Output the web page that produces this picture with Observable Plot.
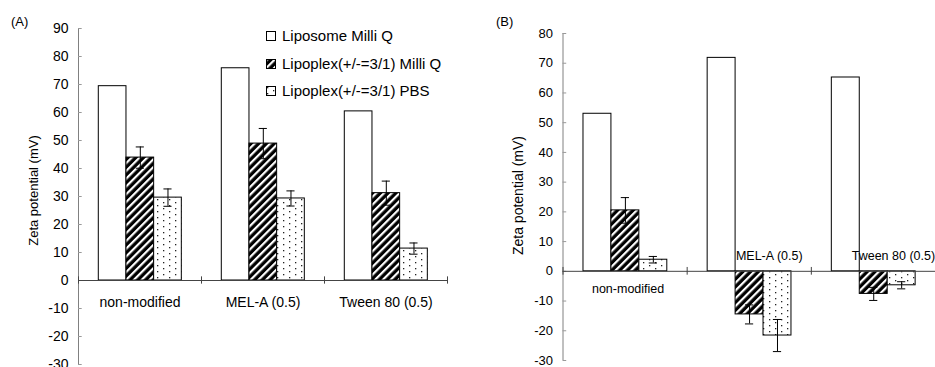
<!DOCTYPE html>
<html><head><meta charset="utf-8">
<script src="https://cdn.jsdelivr.net/npm/d3@7"></script>
<script src="https://cdn.jsdelivr.net/npm/@observablehq/plot@0.6"></script>
<style>
html,body{margin:0;padding:0;background:#fff;overflow:hidden}
#wrap{position:relative;width:935px;height:367px;font-family:"Liberation Sans",Arial,sans-serif;color:#000;overflow:hidden}
.panel{position:absolute;top:0}
.lab{position:absolute;font-size:13px;line-height:15px;white-space:nowrap}
.leg{position:absolute;height:18px;display:flex;align-items:center;font-size:15px;line-height:18px;white-space:nowrap}
.leg svg{margin-right:6px;display:block}
</style></head><body>
<svg width="0" height="0" style="position:absolute">
<defs>
<pattern id="hatch" patternUnits="userSpaceOnUse" width="5.5" height="5.5" patternTransform="rotate(45)">
<rect width="5.5" height="5.5" fill="#000"/>
<rect width="2.2" height="5.5" fill="#fff"/>
</pattern>
<pattern id="dots" patternUnits="userSpaceOnUse" width="12" height="6">
<rect width="12" height="6" fill="#fff"/>
<rect x="1" y="1" width="1.3" height="1.3" fill="#222"/>
<rect x="7" y="4" width="1.3" height="1.3" fill="#222"/>
</pattern>
</defs></svg>
<div id="wrap"></div>
<script>
// ---- data ----
const categories = ["non-modified", "MEL-A (0.5)", "Tween 80 (0.5)"];
const series = ["Liposome Milli Q", "Lipoplex(+/-=3/1) Milli Q", "Lipoplex(+/-=3/1) PBS"];

// Panel (A)
const aLiposomeMQ = [69.4, 75.8, 60.4];
const aLipoplexMQ = [43.9, 48.9, 31.2];
const aLipoplexPBS = [29.6, 29.3, 11.4];
const aErrLipoplexMQ = [3.8, 5.4, 4.3];
const aErrLipoplexPBS = [3.1, 2.7, 2.0];
const aYTicks = [-30, -20, -10, 0, 10, 20, 30, 40, 50, 60, 70, 80, 90];

// Panel (B)
const bLiposomeMQ = [53.0, 71.8, 65.2];
const bLipoplexMQ = [20.5, -14.5, -7.6];
const bLipoplexPBS = [3.9, -21.6, -4.7];
const bErrLipoplexMQ = [4.3, 3.2, 2.2];
const bErrLipoplexPBS = [1.1, 5.4, 1.2];
const bYTicks = [-30, -20, -10, 0, 10, 20, 30, 40, 50, 60, 70, 80];

const yTitle = "Zeta potential (mV)";
const panelNames = ["(A)", "(B)"];

// ---- styles ----
const fills = ["#fff", "url(#hatch)", "url(#dots)"];
const FONT = '"Liberation Sans", Arial, sans-serif';
const BAR_OFF = 0.165, BAR_W = 0.225, CAP = 0.033;

function buildRows(valueLists, errLists) {
  const rows = [];
  categories.forEach((cat, i) => {
    series.forEach((s, j) => {
      const x1 = i + BAR_OFF + j * BAR_W;
      rows.push({cat, i, j, series: s, value: valueLists[j][i],
        err: errLists[j] ? errLists[j][i] : null,
        x1, x2: x1 + BAR_W, xc: x1 + BAR_W / 2});
    });
  });
  return rows;
}

function panel(cfg) {
  const rows = buildRows(cfg.values, cfg.errs);
  const errRows = rows.filter(d => d.err != null);
  const labels = categories.map((c, i) => ({c, x: i + 0.5,
    neg: Math.min(...cfg.values.map(v => v[i])) < 0}));
  const marks = [];
  // y axis line + ticks
  marks.push(Plot.ruleX([0], {stroke: "#808080", strokeWidth: 1}));
  marks.push(Plot.ruleY(cfg.yTicks, {x1: 0, x2: 0.03, stroke: "#999"}));
  marks.push(Plot.text(cfg.yTicks, {x: 0, y: d => d, text: d => String(d), textAnchor: "end",
    dx: -10, fontSize: cfg.tickFont, fill: "#000"}));
  // bars
  series.forEach((s, j) => {
    marks.push(Plot.rectY(rows.filter(d => d.j === j), {x1: "x1", x2: "x2", y1: 0, y2: "value",
      fill: fills[j], stroke: "#000", strokeWidth: 1}));
  });
  // error bars
  marks.push(Plot.ruleX(errRows, {x: "xc", y1: d => d.value - d.err, y2: d => d.value + d.err, stroke: "#000"}));
  marks.push(Plot.ruleY(errRows, {y: d => d.value + d.err, x1: d => d.xc - CAP, x2: d => d.xc + CAP, stroke: "#000"}));
  marks.push(Plot.ruleY(errRows, {y: d => d.value - d.err, x1: d => d.xc - CAP, x2: d => d.xc + CAP, stroke: "#000"}));
  // x axis line at zero + category boundary ticks
  marks.push(Plot.ruleY([0], {stroke: "#444"}));
  marks.push(Plot.ruleX(d3.range(categories.length + 1), {y1: -1.3, y2: 1.3, stroke: "#444"}));
  // category labels
  marks.push(Plot.text(labels.filter(d => !d.neg), {x: "x", y: 0, text: "c", dy: cfg.belowDy, dx: cfg.belowDx,
    fontSize: cfg.catFont, fill: "#000"}));
  marks.push(Plot.text(labels.filter(d => d.neg), {x: "x", y: 0, text: "c", dy: cfg.aboveDy, dx: cfg.aboveDx,
    fontSize: cfg.catFont, fill: "#000"}));
  // y title
  marks.push(Plot.text([yTitle], {frameAnchor: "left", textAnchor: "middle", rotate: -90,
    dx: cfg.titleDx, dy: cfg.titleDy, fontSize: cfg.titleFont, fill: "#000"}));
  return Plot.plot({
    width: cfg.width, height: 367,
    marginLeft: cfg.marginLeft, marginRight: cfg.marginRight,
    marginTop: cfg.marginTop, marginBottom: cfg.marginBottom,
    x: {type: "linear", domain: [0, categories.length], axis: null},
    y: {domain: cfg.yDomain, axis: null},
    style: {fontFamily: FONT, background: "#fff", color: "#000", overflow: "hidden"},
    marks
  });
}

const wrap = document.getElementById("wrap");

const pa = panel({
  values: [aLiposomeMQ, aLipoplexMQ, aLipoplexPBS],
  errs: [null, aErrLipoplexMQ, aErrLipoplexPBS],
  yTicks: aYTicks, yDomain: [-30, 90],
  width: 480, marginLeft: 78, marginRight: 33, marginTop: 28, marginBottom: 3,
  tickFont: 14, catFont: 14, titleFont: 13, titleDx: -45, titleDy: -6,
  belowDy: 22, belowDx: 0, aboveDy: -15, aboveDx: 0
});
pa.classList.add("panel"); pa.style.left = "0px";
wrap.appendChild(pa);

const pb = panel({
  values: [bLiposomeMQ, bLipoplexMQ, bLipoplexPBS],
  errs: [null, bErrLipoplexMQ, bErrLipoplexPBS],
  yTicks: bYTicks, yDomain: [-30, 80],
  width: 455, marginLeft: 82.5, marginRight: 0, marginTop: 33, marginBottom: 7,
  tickFont: 13, catFont: 12.5, titleFont: 14, titleDx: -44.5, titleDy: -1.5,
  belowDy: 18, belowDx: 3, aboveDy: -15, aboveDx: 20
});
pb.classList.add("panel"); pb.style.left = "480px";
wrap.appendChild(pb);

// panel names
[[11, panelNames[0]], [496, panelNames[1]]].forEach(([left, t]) => {
  const d = document.createElement("div");
  d.className = "lab"; d.style.left = left + "px"; d.style.top = "14px"; d.textContent = t;
  wrap.appendChild(d);
});

// legend
series.forEach((s, j) => {
  const row = document.createElement("div");
  row.className = "leg";
  row.style.left = "266px";
  row.style.top = (27 + j * 27.6) + "px";
  const sw = d3.create("svg").attr("width", 10).attr("height", 10);
  sw.append("rect").attr("x", 0.5).attr("y", 0.5).attr("width", 9).attr("height", 9)
    .attr("fill", fills[j]).attr("stroke", "#000");
  row.appendChild(sw.node());
  const t = document.createElement("span"); t.textContent = s;
  row.appendChild(t);
  wrap.appendChild(row);
});
</script>
</body></html>
